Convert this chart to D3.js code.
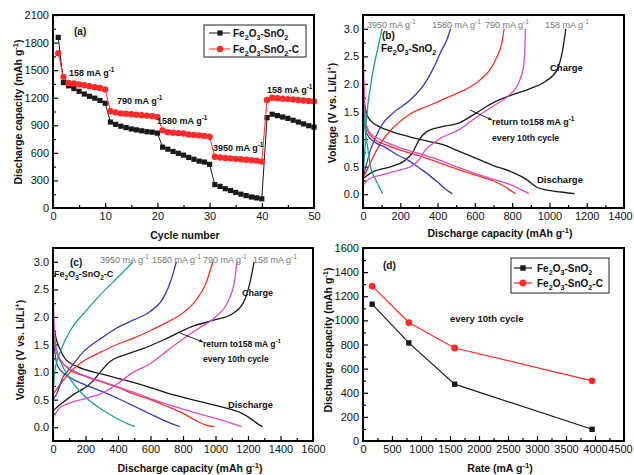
<!DOCTYPE html>
<html><head><meta charset="utf-8">
<script src="https://cdn.jsdelivr.net/npm/d3@7"></script>
<style>html,body{margin:0;padding:0;background:#fff}</style>
</head><body><svg id="c" width="634" height="475"></svg>
<script>
// ---------- DATA ----------
const cycleNumbers = [1,2,3,4,5,6,7,8,9,10,11,12,13,14,15,16,17,18,19,20,21,22,23,24,25,26,27,28,29,30,31,32,33,34,35,36,37,38,39,40,41,42,43,44,45,46,47,48,49,50];
const capFe2O3SnO2 = [1856,1365,1330,1300,1270,1240,1215,1195,1170,1140,935,910,890,875,860,850,840,830,825,815,662,640,615,595,575,550,530,510,500,475,255,235,210,190,170,150,135,120,110,100,983,1020,1005,990,975,955,935,915,895,880];
const capFe2O3SnO2C = [1685,1427,1360,1355,1345,1335,1325,1315,1305,1290,1052,1040,1030,1025,1020,1015,1010,1005,1000,990,845,825,820,815,810,800,795,790,785,775,557,550,545,540,535,530,525,520,515,505,1175,1200,1195,1190,1185,1180,1175,1170,1165,1160];

const rates = [158, 790, 1580, 3950];
const rateCapFe2O3SnO2 = [1134, 813, 471, 97];
const rateCapFe2O3SnO2C = [1284, 982, 771, 499];

const rateLabels = ["3950", "1580", "790", "158"];

// panel (b) Fe2O3-SnO2 : [capacity, voltage]
const b158Dis = [[0,1.95],[8,1.65],[20,1.45],[45,1.32],[90,1.22],[150,1.14],[250,1.04],[350,0.96],[430,0.9],[500,0.8],[600,0.66],[700,0.52],[800,0.4],[880,0.26],[930,0.13],[980,0.08],[1060,0.04],[1135,0.01]];
const b158Chg = [[0,0.28],[50,0.4],[150,0.5],[220,0.6],[265,0.75],[300,0.98],[340,1.13],[420,1.22],[520,1.3],[610,1.48],[700,1.66],[800,1.8],[900,1.92],[980,2.05],[1040,2.25],[1070,2.6],[1088,3.0]];
const b790Dis = [[0,2.3],[10,1.5],[25,1.15],[60,1.0],[120,0.9],[200,0.8],[300,0.7],[400,0.58],[500,0.46],[600,0.35],[700,0.24],[760,0.14],[800,0.05],[820,0.01]];
const b790Chg = [[0,0.28],[30,0.5],[90,0.9],[160,1.2],[250,1.45],[350,1.6],[450,1.75],[550,1.9],[620,2.05],[680,2.25],[720,2.5],[745,2.75],[757,3.0]];
const b1580Dis = [[0,1.9],[8,1.4],[20,1.1],[60,0.95],[120,0.85],[180,0.72],[250,0.6],[300,0.48],[350,0.36],[400,0.22],[440,0.1],[478,0.01]];
const b1580Chg = [[0,0.3],[15,0.5],[40,0.8],[70,1.05],[100,1.25],[160,1.47],[250,1.7],[330,2.0],[380,2.3],[420,2.6],[450,2.8],[470,3.0]];
const b3950Dis = [[0,1.8],[10,1.2],[25,0.85],[40,0.5],[70,0.25],[106,0.01]];
const b3950Chg = [[0,0.3],[10,0.8],[20,1.4],[40,1.95],[60,2.35],[80,2.65],[102,3.0]];
const bRetDis = [[0,2.8],[5,2.0],[15,1.3],[40,1.1],[100,0.98],[200,0.84],[300,0.74],[400,0.63],[500,0.5],[600,0.38],[700,0.27],[800,0.16],[850,0.08],[890,0.01]];
const bRetChg = [[0,0.15],[30,0.27],[100,0.35],[200,0.44],[255,0.5],[300,0.62],[330,0.78],[400,0.98],[520,1.18],[610,1.4],[700,1.6],[775,1.77],[835,2.02],[860,2.3],[868,2.6],[871,3.0]];

// panel (c) Fe2O3-SnO2-C
const c158Dis = [[0,1.9],[20,1.6],[45,1.4],[80,1.22],[150,1.1],[291,0.97],[450,0.85],[600,0.72],[750,0.58],[900,0.47],[1050,0.36],[1150,0.27],[1210,0.17],[1260,0.06],[1290,0.01]];
const c158Chg = [[0,0.3],[60,0.45],[130,0.6],[188,0.7],[250,0.85],[291,1.0],[352,1.19],[450,1.32],[550,1.42],[700,1.61],[850,1.82],[1000,1.95],[1100,2.05],[1170,2.25],[1210,2.6],[1238,3.0]];
const c790Dis = [[0,2.0],[15,1.5],[40,1.25],[100,1.05],[200,0.92],[300,0.82],[400,0.72],[500,0.6],[600,0.5],[700,0.38],[800,0.25],[880,0.12],[940,0.04],[994,0.01]];
const c790Chg = [[0,0.6],[50,0.8],[106,1.0],[188,1.2],[300,1.37],[393,1.5],[500,1.62],[598,1.75],[700,1.9],[803,2.08],[880,2.3],[940,2.6],[984,3.0]];
const c1580Dis = [[0,2.0],[10,1.4],[30,1.1],[80,0.95],[188,0.78],[300,0.65],[393,0.53],[500,0.38],[598,0.24],[700,0.1],[780,0.01]];
const c1580Chg = [[0,0.5],[25,0.62],[60,0.9],[106,1.07],[188,1.37],[300,1.62],[393,1.8],[500,1.95],[598,2.1],[680,2.35],[730,2.7],[759,3.0]];
const c3950Dis = [[0,1.8],[10,1.5],[45,1.19],[100,0.9],[188,0.58],[300,0.32],[393,0.16],[460,0.06],[504,0.01]];
const c3950Chg = [[0,0.5],[10,1.0],[50,1.4],[106,1.75],[200,2.1],[291,2.4],[400,2.72],[494,3.0]];
const cRetDis = [[0,2.8],[5,2.0],[20,1.4],[50,1.2],[100,1.07],[200,0.93],[300,0.83],[400,0.73],[500,0.63],[600,0.52],[700,0.42],[800,0.33],[900,0.24],[1000,0.16],[1100,0.07],[1160,0.01]];
const cRetChg = [[0,0.16],[40,0.35],[86,0.42],[200,0.52],[291,0.6],[393,0.78],[495,1.0],[598,1.15],[700,1.38],[800,1.6],[900,1.8],[1000,2.0],[1080,2.3],[1120,2.7],[1131,3.0]];

// ticks
const aXTicks = [0,10,20,30,40,50], aXMinor = [5,15,25,35,45];
const aYTicks = [0,300,600,900,1200,1500,1800,2100], aYMinor = [150,450,750,1050,1350,1650,1950];
const vTicks = [0,0.5,1.0,1.5,2.0,2.5,3.0], vMinor = [0.25,0.75,1.25,1.75,2.25,2.75];
const bXTicks = [0,200,400,600,800,1000,1200,1400], bXMinor = [100,300,500,700,900,1100,1300];
const cXTicks = [0,200,400,600,800,1000,1200,1400,1600], cXMinor = [100,300,500,700,900,1100,1300,1500];
const dXTicks = [0,500,1000,1500,2000,2500,3000,3500,4000,4500], dXMinor = [250,750,1250,1750,2250,2750,3250,3750,4250];
const dYTicks = [0,200,400,600,800,1000,1200,1400,1600], dYMinor = [100,300,500,700,900,1100,1300,1500];

// ---------- DRAW ----------
const FONT = "'Liberation Sans', Arial, Helvetica, sans-serif";
const svg = d3.select('#c').attr('font-family', FONT);
svg.append('rect').attr('width',634).attr('height',475).attr('fill','#fff');

const COL = {black:'#1a1a1a', red:'#ee3526', blue:'#3a3ab0', teal:'#1fa08f', mag:'#d94cc2', redA:'#ff2a2a'};

function parse(s){
  const out=[]; const re=/([_^])\{([^}]*)\}/g; let last=0, m;
  while((m=re.exec(s))){ if(m.index>last) out.push({s:s.slice(last,m.index),k:''}); out.push({s:m[2],k:m[1]==='_'?'sub':'sup'}); last=re.lastIndex; }
  if(last<s.length) out.push({s:s.slice(last),k:''});
  return out;
}
function rich(parent, x, y, str, o={}){
  const size=o.size||10;
  const t=parent.append('text').attr('x',x).attr('y',y).attr('font-size',size)
    .attr('font-weight',o.weight||'bold').attr('fill',o.fill||'#111').attr('text-anchor',o.anchor||'start');
  if(o.transform) t.attr('transform',o.transform);
  let cur=0;
  parse(str).forEach(p=>{
    const target = p.k==='sub'? size*0.3 : p.k==='sup' ? -size*0.42 : 0;
    const ts=t.append('tspan').text(p.s);
    if(target-cur!==0) ts.attr('dy',(target-cur).toFixed(2));
    if(p.k) ts.attr('font-size',size*0.72);
    cur=target;
  });
  return t;
}

function panel(o){
  const x=d3.scaleLinear().domain(o.xd).range([o.l,o.r]);
  const y=d3.scaleLinear().domain(o.yd).range([o.b,o.t]);
  const g=svg.append('g');
  const style = sel => { sel.select('.domain').remove(); sel.selectAll('line').attr('stroke','#000').attr('stroke-width',1.2);
    sel.selectAll('text').attr('font-size',11).attr('fill','#111').attr('font-family',FONT); };
  const xa=g.append('g').attr('transform',`translate(0,${o.b})`).call(d3.axisBottom(x).tickValues(o.xMaj).tickSize(-5).tickPadding(4).tickFormat(o.xFmt||d3.format('d'))).call(style);
  if(o.lastShift){ const tx=xa.selectAll('.tick text').nodes(); d3.select(tx[tx.length-1]).attr('dx',o.lastShift); }
  g.append('g').attr('transform',`translate(0,${o.b})`).call(d3.axisBottom(x).tickValues(o.xMin).tickSize(-3).tickFormat('')).call(style);
  g.append('g').attr('transform',`translate(${o.l},0)`).call(d3.axisLeft(y).tickValues(o.yMaj).tickSize(-5).tickPadding(4).tickFormat(o.yFmt||d3.format('d'))).call(style);
  g.append('g').attr('transform',`translate(${o.l},0)`).call(d3.axisLeft(y).tickValues(o.yMin).tickSize(-3).tickFormat('')).call(style);
  const plot=svg.append('g');
  svg.append('rect').attr('x',o.l).attr('y',o.t).attr('width',o.r-o.l).attr('height',o.b-o.t)
    .attr('fill','none').attr('stroke','#000').attr('stroke-width',2);
  return {x,y,g:plot};
}

// ===== (a) =====
{
  const P=panel({l:53,r:314,t:15,b:208,xd:[0,50],yd:[0,2100],xMaj:aXTicks,xMin:aXMinor,yMaj:aYTicks,yMin:aYMinor});
  const series=[{v:capFe2O3SnO2,c:COL.black,sh:'sq'},{v:capFe2O3SnO2C,c:COL.redA,sh:'ci'}];
  series.forEach(s=>{
    const pts=cycleNumbers.map((c,i)=>[c,s.v[i]]);
    P.g.append('path').attr('d',d3.line().x(d=>P.x(d[0])).y(d=>P.y(d[1]))(pts)).attr('fill','none').attr('stroke',s.c).attr('stroke-width',1);
    if(s.sh==='sq') P.g.selectAll(null).data(pts).join('rect').attr('x',d=>P.x(d[0])-2.6).attr('y',d=>P.y(d[1])-2.6).attr('width',5.2).attr('height',5.2).attr('fill',s.c);
    else P.g.selectAll(null).data(pts).join('circle').attr('cx',d=>P.x(d[0])).attr('cy',d=>P.y(d[1])).attr('r',3.2).attr('fill',s.c);
  });
  // legend
  P.g.append('rect').attr('x',204).attr('y',25).attr('width',102).attr('height',32).attr('fill','#fff').attr('stroke','#222').attr('stroke-width',1);
  [[33,COL.black,'sq','Fe_{2}O_{3}-SnO_{2}'],[49,COL.redA,'ci','Fe_{2}O_{3}-SnO_{2}-C']].forEach(([yy,c,sh,lab])=>{
    P.g.append('line').attr('x1',209).attr('x2',230).attr('y1',yy).attr('y2',yy).attr('stroke',c).attr('stroke-width',1);
    if(sh==='sq') P.g.append('rect').attr('x',217.4).attr('y',yy-2.6).attr('width',5.2).attr('height',5.2).attr('fill',c);
    else P.g.append('circle').attr('cx',220).attr('cy',yy).attr('r',3.2).attr('fill',c);
    rich(P.g,233,yy+3.5,lab,{size:10});
  });
  rich(P.g,74,35,'(a)',{size:10});
  rich(P.g,69,76,'158 mA g^{-1}',{size:9});
  rich(P.g,117,104,'790 mA g^{-1}',{size:9});
  rich(P.g,157,124,'1580 mA g^{-1}',{size:9});
  rich(P.g,213,151,'3950 mA g^{-1}',{size:9});
  rich(P.g,267,93,'158 mA g^{-1}',{size:9});
  rich(svg,185,239,'Cycle number',{size:10.5,anchor:'middle'});
  rich(svg,0,0,'Discharge capacity (mAh g^{-1})',{size:10.5,anchor:'middle',transform:'translate(22,112) rotate(-90)'});
}

function curves(P, list){
  const line=d3.line().x(d=>P.x(d[0])).y(d=>P.y(d[1])).curve(d3.curveMonotoneX);
  list.forEach(([arr,c])=>P.g.append('path').attr('d',line(arr)).attr('fill','none').attr('stroke',c).attr('stroke-width',1.3));
}
function arrow(g,x1,y1,x2,y2){
  g.append('line').attr('x1',x1).attr('y1',y1).attr('x2',x2).attr('y2',y2).attr('stroke','#222').attr('stroke-width',1);
  const a=Math.atan2(y2-y1,x2-x1), L=4;
  const p=[[x2,y2],[x2-L*Math.cos(a-0.45),y2-L*Math.sin(a-0.45)],[x2-L*Math.cos(a+0.45),y2-L*Math.sin(a+0.45)]];
  g.append('path').attr('d','M'+p.map(q=>q.join(',')).join('L')+'Z').attr('fill','#222');
}

// ===== (b) =====
{
  const P=panel({l:363,r:624,t:15,b:208,xd:[0,1400],yd:[-0.25,3.25],xMaj:bXTicks,xMin:bXMinor,yMaj:vTicks,yMin:vMinor,yFmt:d3.format('.1f'),lastShift:-4});
  curves(P,[[b158Dis,COL.black],[b158Chg,COL.black],[b790Dis,COL.red],[b790Chg,COL.red],[b1580Dis,COL.blue],[b1580Chg,COL.blue],
    [b3950Dis,COL.teal],[b3950Chg,COL.teal],[bRetDis,COL.mag],[bRetChg,COL.mag]]);
  const lx=[367,432,485,545];
  rateLabels.forEach((r,i)=>rich(P.g,lx[i],28,r+' mA g^{-1}',{size:9,weight:'normal',fill:'#777'}));
  rich(P.g,382,39,'(b)',{size:10});
  rich(P.g,381,52,'Fe_{2}O_{3}-SnO_{2}',{size:10});
  rich(P.g,550,71,'Charge',{size:9.5});
  arrow(P.g,470,110,492,120);
  rich(P.g,492,125,'return to158 mA g^{-1}',{size:9});
  rich(P.g,492,141,'every 10th cycle',{size:8.7});
  rich(P.g,537,183,'Discharge',{size:9.5});
  rich(svg,500,237,'Discharge capacity (mAh g^{-1})',{size:10.5,anchor:'middle'});
  rich(svg,0,0,'Voltage (V vs. Li/Li^{+})',{size:10.5,anchor:'middle',transform:'translate(336,113) rotate(-90)'});
}

// ===== (c) =====
{
  const P=panel({l:53,r:313,t:248,b:441,xd:[0,1600],yd:[-0.25,3.25],xMaj:cXTicks,xMin:cXMinor,yMaj:vTicks,yMin:vMinor,yFmt:d3.format('.1f')});
  curves(P,[[c158Dis,COL.black],[c158Chg,COL.black],[c790Dis,COL.red],[c790Chg,COL.red],[c1580Dis,COL.blue],[c1580Chg,COL.blue],
    [c3950Dis,COL.teal],[c3950Chg,COL.teal],[cRetDis,COL.mag],[cRetChg,COL.mag]]);
  const lx=[100,152,203,253];
  rateLabels.forEach((r,i)=>rich(P.g,lx[i],263,r+' mA g^{-1}',{size:9,weight:'normal',fill:'#777'}));
  rich(P.g,70,266,'(c)',{size:10});
  rich(P.g,54,277,'Fe_{2}O_{3}-SnO_{2}-C',{size:9});
  rich(P.g,242,296,'Charge',{size:9});
  arrow(P.g,180,333,203,342);
  rich(P.g,203,347,'return to158 mA g^{-1}',{size:8.5});
  rich(P.g,203,362,'every 10th cycle',{size:8.5});
  rich(P.g,228,408,'Discharge',{size:9.3});
  rich(svg,190,472,'Discharge capacity (mAh g^{-1})',{size:10.5,anchor:'middle'});
  rich(svg,0,0,'Voltage (V vs. Li/Li^{+})',{size:10.5,anchor:'middle',transform:'translate(24,350) rotate(-90)'});
}

// ===== (d) =====
{
  const P=panel({l:363,r:624,t:248,b:441,xd:[0,4500],yd:[0,1600],xMaj:dXTicks,xMin:dXMinor,yMaj:dYTicks,yMin:dYMinor,lastShift:-4});
  const series=[{v:rateCapFe2O3SnO2,c:COL.black,sh:'sq'},{v:rateCapFe2O3SnO2C,c:COL.redA,sh:'ci'}];
  series.forEach(s=>{
    const pts=rates.map((r,i)=>[r,s.v[i]]);
    P.g.append('path').attr('d',d3.line().x(d=>P.x(d[0])).y(d=>P.y(d[1]))(pts)).attr('fill','none').attr('stroke',s.c).attr('stroke-width',1.2);
    if(s.sh==='sq') P.g.selectAll(null).data(pts).join('rect').attr('x',d=>P.x(d[0])-2.7).attr('y',d=>P.y(d[1])-2.7).attr('width',5.4).attr('height',5.4).attr('fill',s.c);
    else P.g.selectAll(null).data(pts).join('circle').attr('cx',d=>P.x(d[0])).attr('cy',d=>P.y(d[1])).attr('r',3.4).attr('fill',s.c);
  });
  P.g.append('rect').attr('x',511).attr('y',258).attr('width',98).attr('height',35).attr('fill','#fff').attr('stroke','#222').attr('stroke-width',1);
  [[268,COL.black,'sq','Fe_{2}O_{3}-SnO_{2}'],[283,COL.redA,'ci','Fe_{2}O_{3}-SnO_{2}-C']].forEach(([yy,c,sh,lab])=>{
    P.g.append('line').attr('x1',514).attr('x2',532).attr('y1',yy).attr('y2',yy).attr('stroke',c).attr('stroke-width',1.2);
    if(sh==='sq') P.g.append('rect').attr('x',520.3).attr('y',yy-2.7).attr('width',5.4).attr('height',5.4).attr('fill',c);
    else P.g.append('circle').attr('cx',523).attr('cy',yy).attr('r',3.4).attr('fill',c);
    rich(P.g,537,yy+3.5,lab,{size:10});
  });
  rich(P.g,383,269,'(d)',{size:10});
  rich(P.g,450,322,'every 10th cycle',{size:9.5});
  rich(svg,500,472,'Rate (mA g^{-1})',{size:10.5,anchor:'middle'});
  rich(svg,0,0,'Discharge capacity (mAh g^{-1})',{size:10.5,anchor:'middle',transform:'translate(332,340) rotate(-90)'});
}
</script></body></html>
